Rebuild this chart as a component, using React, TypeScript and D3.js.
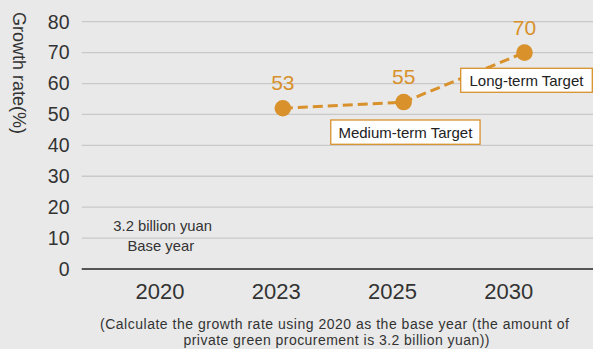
import React from "react";
import * as d3 from "d3";

const categories = ["2020", "2023", "2025", "2030"];
const pointYears = ["2023", "2025", "2030"];
const pointValues = [52, 54, 70];
const pointLabels = ["53", "55", "70"];
const yTicks = [0, 10, 20, 30, 40, 50, 60, 70, 80];
const yTitle = "Growth rate(%)";
const baseNote = ["3.2 billion yuan", "Base year"];
const footnote = [
  "(Calculate the growth rate using 2020 as the base year (the amount of",
  "private green procurement is 3.2 billion yuan))",
];
const targets = [
  { year: "2025", text: "Medium-term Target" },
  { year: "2030", text: "Long-term Target" },
];

const W = 593;
const H = 349;
const ORANGE = "#d8912b";
const FONT = "'Liberation Sans', Arial, Helvetica, sans-serif";

export default function App() {
  const y = d3.scaleLinear().domain([0, 80]).range([269, 21.7]);
  const xLabel = d3.scalePoint<string>().domain(categories).range([160, 508.7]);
  const xDot = d3.scalePoint<string>().domain(categories).range([162, 524.5]);

  const pts = pointYears.map((yr, i) => ({
    x: xDot(yr) as number,
    y: y(pointValues[i]),
    label: pointLabels[i],
  }));
  const line = d3
    .line<{ x: number; y: number }>()
    .x((d) => d.x)
    .y((d) => d.y);

  const boxes = [
    { cx: 405.4, top: 120, w: 149.3, h: 24.3, text: targets[0].text },
    { cx: 526.5, top: 68.3, w: 131.6, h: 24, text: targets[1].text },
  ];

  const foot = [
    { x: 334.5, y: 329, len: 469 },
    { x: 336.5, y: 345, len: 306 },
  ];

  return (
    <svg
      width={W}
      height={H}
      style={{ position: "absolute", left: 0, top: 0, display: "block" }}
      fontFamily={FONT}
    >
      <rect width={W} height={H} fill="#e9e9e9" />
      {yTicks.map((t) => (
        <g key={t}>
          {t !== 0 && (
            <line x1={81.7} x2={W} y1={y(t)} y2={y(t)} stroke="#c9c9c9" strokeWidth={1.3} />
          )}
          <text
            x={69.5}
            y={y(t)}
            dy="0.35em"
            textAnchor="end"
            fontSize={19.5}
            fill="#333"
          >
            {t}
          </text>
        </g>
      ))}
      <line x1={81.7} x2={W} y1={y(0)} y2={y(0)} stroke="#555" strokeWidth={2.2} />
      <text
        transform="translate(19.7,73) rotate(90)"
        textAnchor="middle"
        dy="0.35em"
        fontSize={18}
        fill="#333"
      >
        {yTitle}
      </text>
      {categories.map((c) => (
        <text
          key={c}
          x={xLabel(c)}
          y={299.3}
          textAnchor="middle"
          fontSize={22}
          fill="#333"
        >
          {c}
        </text>
      ))}
      {baseNote.map((t, i) => (
        <text
          key={t}
          x={i === 0 ? 162.7 : 160.8}
          y={i === 0 ? 230.5 : 250.5}
          textAnchor="middle"
          fontSize={14.8}
          fill="#333"
        >
          {t}
        </text>
      ))}
      <path
        d={line(pts) || ""}
        fill="none"
        stroke={ORANGE}
        strokeWidth={3}
        strokeDasharray="10,5"
      />
      {pts.map((p) => (
        <g key={p.label}>
          <circle cx={p.x} cy={p.y} r={8.3} fill={ORANGE} />
          <text
            x={p.x}
            y={p.y - 18}
            textAnchor="middle"
            fontSize={21}
            fill={ORANGE}
          >
            {p.label}
          </text>
        </g>
      ))}
      {boxes.map((b) => (
        <g key={b.text}>
          <rect
            x={b.cx - b.w / 2}
            y={b.top}
            width={b.w}
            height={b.h}
            fill="#fff"
            stroke={ORANGE}
            strokeWidth={1.3}
          />
          <text
            x={b.cx}
            y={b.top + b.h / 2}
            dy="0.36em"
            textAnchor="middle"
            fontSize={15}
            fill="#222"
          >
            {b.text}
          </text>
        </g>
      ))}
      {footnote.map((t, i) => (
        <text
          key={i}
          x={foot[i].x}
          y={foot[i].y}
          textAnchor="middle"
          fontSize={14}
          textLength={foot[i].len}
          lengthAdjust="spacing"
          fill="#333"
        >
          {t}
        </text>
      ))}
    </svg>
  );
}
